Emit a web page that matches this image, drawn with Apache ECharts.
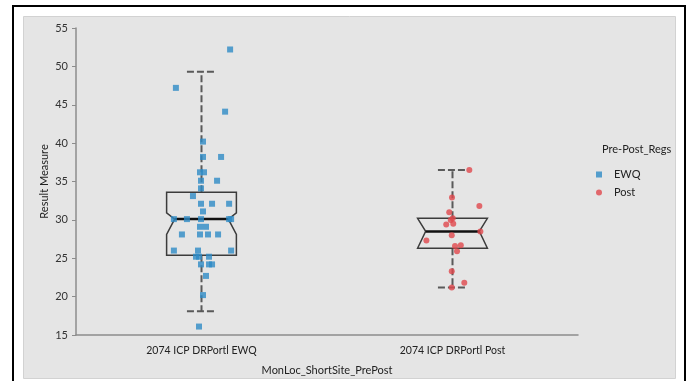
<!DOCTYPE html>
<html>
<head>
<meta charset="utf-8">
<title>Result Measure by site</title>
<script src="https://cdn.jsdelivr.net/npm/echarts@6/dist/echarts.min.js"></script>
</head>
<body style="margin:0">
<div id="main" style="width:691px;height:381px;"></div>
<script>
var categories = ['2074 ICP DRPortl EWQ', '2074 ICP DRPortl Post'];
var groups = ['EWQ', 'Post'];

// box stats, one entry per category
var whiskerLow  = [18.1, 21.2];
var boxQ1       = [25.4, 26.3];
var boxMedian   = [30.1, 28.5];
var boxQ3       = [33.6, 30.2];
var whiskerHigh = [49.3, 36.5];
var notchLow    = [28.1, 26.3];
var notchHigh   = [30.9, 30.2];

// raw points, jitter is a fraction of the category band
var ewqValues = [52.2, 47.2, 44.1, 40.2, 38.2, 38.2, 36.2, 36.2, 35.1, 35.1,
                 34.1, 33.1, 32.1, 32.1, 32.1, 31.1, 30.1, 30.1, 30.1, 30.1,
                 30.1, 29.1, 29.1, 28.1, 28.1, 28.1, 28.1, 26.0, 26.0, 26.0,
                 25.2, 25.2, 25.2, 24.2, 24.2, 24.2, 22.7, 20.2, 16.1];
var ewqJitter = [0.114, -0.102, 0.094, 0.006, 0.006, 0.078, -0.006, 0.010, -0.002, 0.062,
                 -0.002, -0.034, -0.002, 0.042, 0.110, 0.006, -0.110, -0.058, -0.002, 0.110,
                 0.118, -0.006, 0.018, -0.078, -0.006, 0.026, 0.066, -0.110, -0.014, 0.118,
                 -0.022, -0.010, 0.030, -0.002, 0.030, 0.042, 0.018, 0.006, -0.010];
var postValues = [36.5, 32.9, 31.8, 31.0, 30.0, 30.2, 29.4, 29.5, 28.5, 27.3,
                  28.0, 26.6, 26.7, 25.9, 23.3, 21.8, 21.2];
var postJitter = [0.067, -0.002, 0.107, -0.013, -0.007, 0.001, -0.025, 0.003, 0.111, -0.104,
                  -0.003, 0.010, 0.033, 0.018, -0.003, 0.047, -0.003];

var font = 'Lato';
var myChart = echarts.init(document.getElementById('main'));

var boxData = categories.map(function (c, i) {
    return [i, whiskerLow[i], boxQ1[i], boxMedian[i], boxQ3[i], whiskerHigh[i], notchLow[i], notchHigh[i]];
});

function renderBox(params, api) {
    var c = api.value(0) + 0.5;
    var lo = api.value(1), q1 = api.value(2), med = api.value(3), q3 = api.value(4);
    var hi = api.value(5), nLo = api.value(6), nHi = api.value(7);
    var hw = 0.139, nw = 0.107, cw = 0.058;
    function pt(dx, v) { return api.coord([c + dx, v]); }

    var poly = [pt(-hw, q3)];
    if (nHi < q3) poly.push(pt(-hw, nHi));
    poly.push(pt(-nw, med));
    if (nLo > q1) poly.push(pt(-hw, nLo));
    poly.push(pt(-hw, q1), pt(hw, q1));
    if (nLo > q1) poly.push(pt(hw, nLo));
    poly.push(pt(nw, med));
    if (nHi < q3) poly.push(pt(hw, nHi));
    poly.push(pt(hw, q3));

    var dash = { stroke: '#5a5a5a', lineWidth: 2, lineDash: [7, 3] };
    function seg(a, b, style) {
        return { type: 'line', shape: { x1: a[0], y1: a[1], x2: b[0], y2: b[1] }, style: style };
    }
    return {
        type: 'group',
        children: [
            seg(pt(0, q3), pt(0, hi), dash),
            seg(pt(0, q1), pt(0, lo), dash),
            seg(pt(-cw, hi), pt(cw, hi), dash),
            seg(pt(-cw, lo), pt(cw, lo), dash),
            { type: 'polygon', shape: { points: poly },
              style: { fill: 'rgba(0,0,0,0)', stroke: '#3c3c3c', lineWidth: 1.5, lineJoin: 'miter' } },
            seg(pt(-nw, med), pt(nw, med), { stroke: '#111', lineWidth: 2.5 })
        ]
    };
}

option = {
    backgroundColor: '#fff',
    animation: false,
    textStyle: { fontFamily: font },
    graphic: [
        { type: 'rect', z: -10, shape: { x: 13, y: 6, width: 672, height: 400 },
          style: { fill: '#fff', stroke: '#000', lineWidth: 2 } },
        { type: 'rect', z: -9, shape: { x: 23.5, y: 16.5, width: 652, height: 362 },
          style: { fill: '#e5e5e5', stroke: '#d2d2d2', lineWidth: 1 } },
        { type: 'text', left: 602, top: 144,
          style: { text: 'Pre-Post_Regs', font: '11px ' + font, fill: '#222' } }
    ],
    grid: { left: 76, right: 113, top: 28, bottom: 46 },
    legend: {
        orient: 'vertical',
        left: 591,
        top: 164,
        itemWidth: 6,
        itemHeight: 6,
        itemGap: 7,
        textStyle: { fontFamily: font, fontSize: 11, color: '#222', padding: [0, 0, 0, 7] },
        data: [{ name: groups[0], icon: 'rect' }, { name: groups[1], icon: 'circle' }]
    },
    xAxis: [{
        type: 'category',
        data: categories,
        name: 'MonLoc_ShortSite_PrePost',
        nameLocation: 'middle',
        nameGap: 30,
        nameMoveOverlap: false,
        nameTextStyle: { fontSize: 11, color: '#222' },
        axisLine: { lineStyle: { color: '#8c8c8c', width: 1.5 } },
        axisTick: { inside: true, length: 3, lineStyle: { color: '#8c8c8c' } },
        axisLabel: { fontSize: 10.5, color: '#222', margin: 10 }
    }, {
        type: 'value',
        min: 0,
        max: 2,
        show: false
    }],
    yAxis: {
        type: 'value',
        min: 15,
        max: 55,
        interval: 5,
        name: 'Result Measure',
        nameLocation: 'middle',
        nameGap: 26,
        nameMoveOverlap: false,
        nameTextStyle: { fontSize: 11, color: '#222' },
        splitLine: { show: false },
        axisLine: { show: true, lineStyle: { color: '#8c8c8c', width: 1.5 } },
        axisTick: { show: true, length: 4, lineStyle: { color: '#8c8c8c' } },
        axisLabel: { fontSize: 11, color: '#333', margin: 8 }
    },
    series: [{
        type: 'custom',
        xAxisIndex: 1,
        renderItem: renderBox,
        encode: { x: 0, y: [1, 2, 3, 4, 5] },
        data: boxData,
        z: 1
    }, {
        name: groups[0],
        type: 'scatter',
        xAxisIndex: 1,
        symbol: 'rect',
        symbolSize: 6,
        itemStyle: { color: '#2e8bc6' },
        data: ewqValues.map(function (v, k) { return [0.5 + ewqJitter[k], v]; }),
        z: 3
    }, {
        name: groups[1],
        type: 'scatter',
        xAxisIndex: 1,
        symbol: 'circle',
        symbolSize: 6,
        itemStyle: { color: '#e0474c' },
        data: postValues.map(function (v, k) { return [1.5 + postJitter[k], v]; }),
        z: 3
    }]
};

myChart.setOption(option);
</script>
</body>
</html>
